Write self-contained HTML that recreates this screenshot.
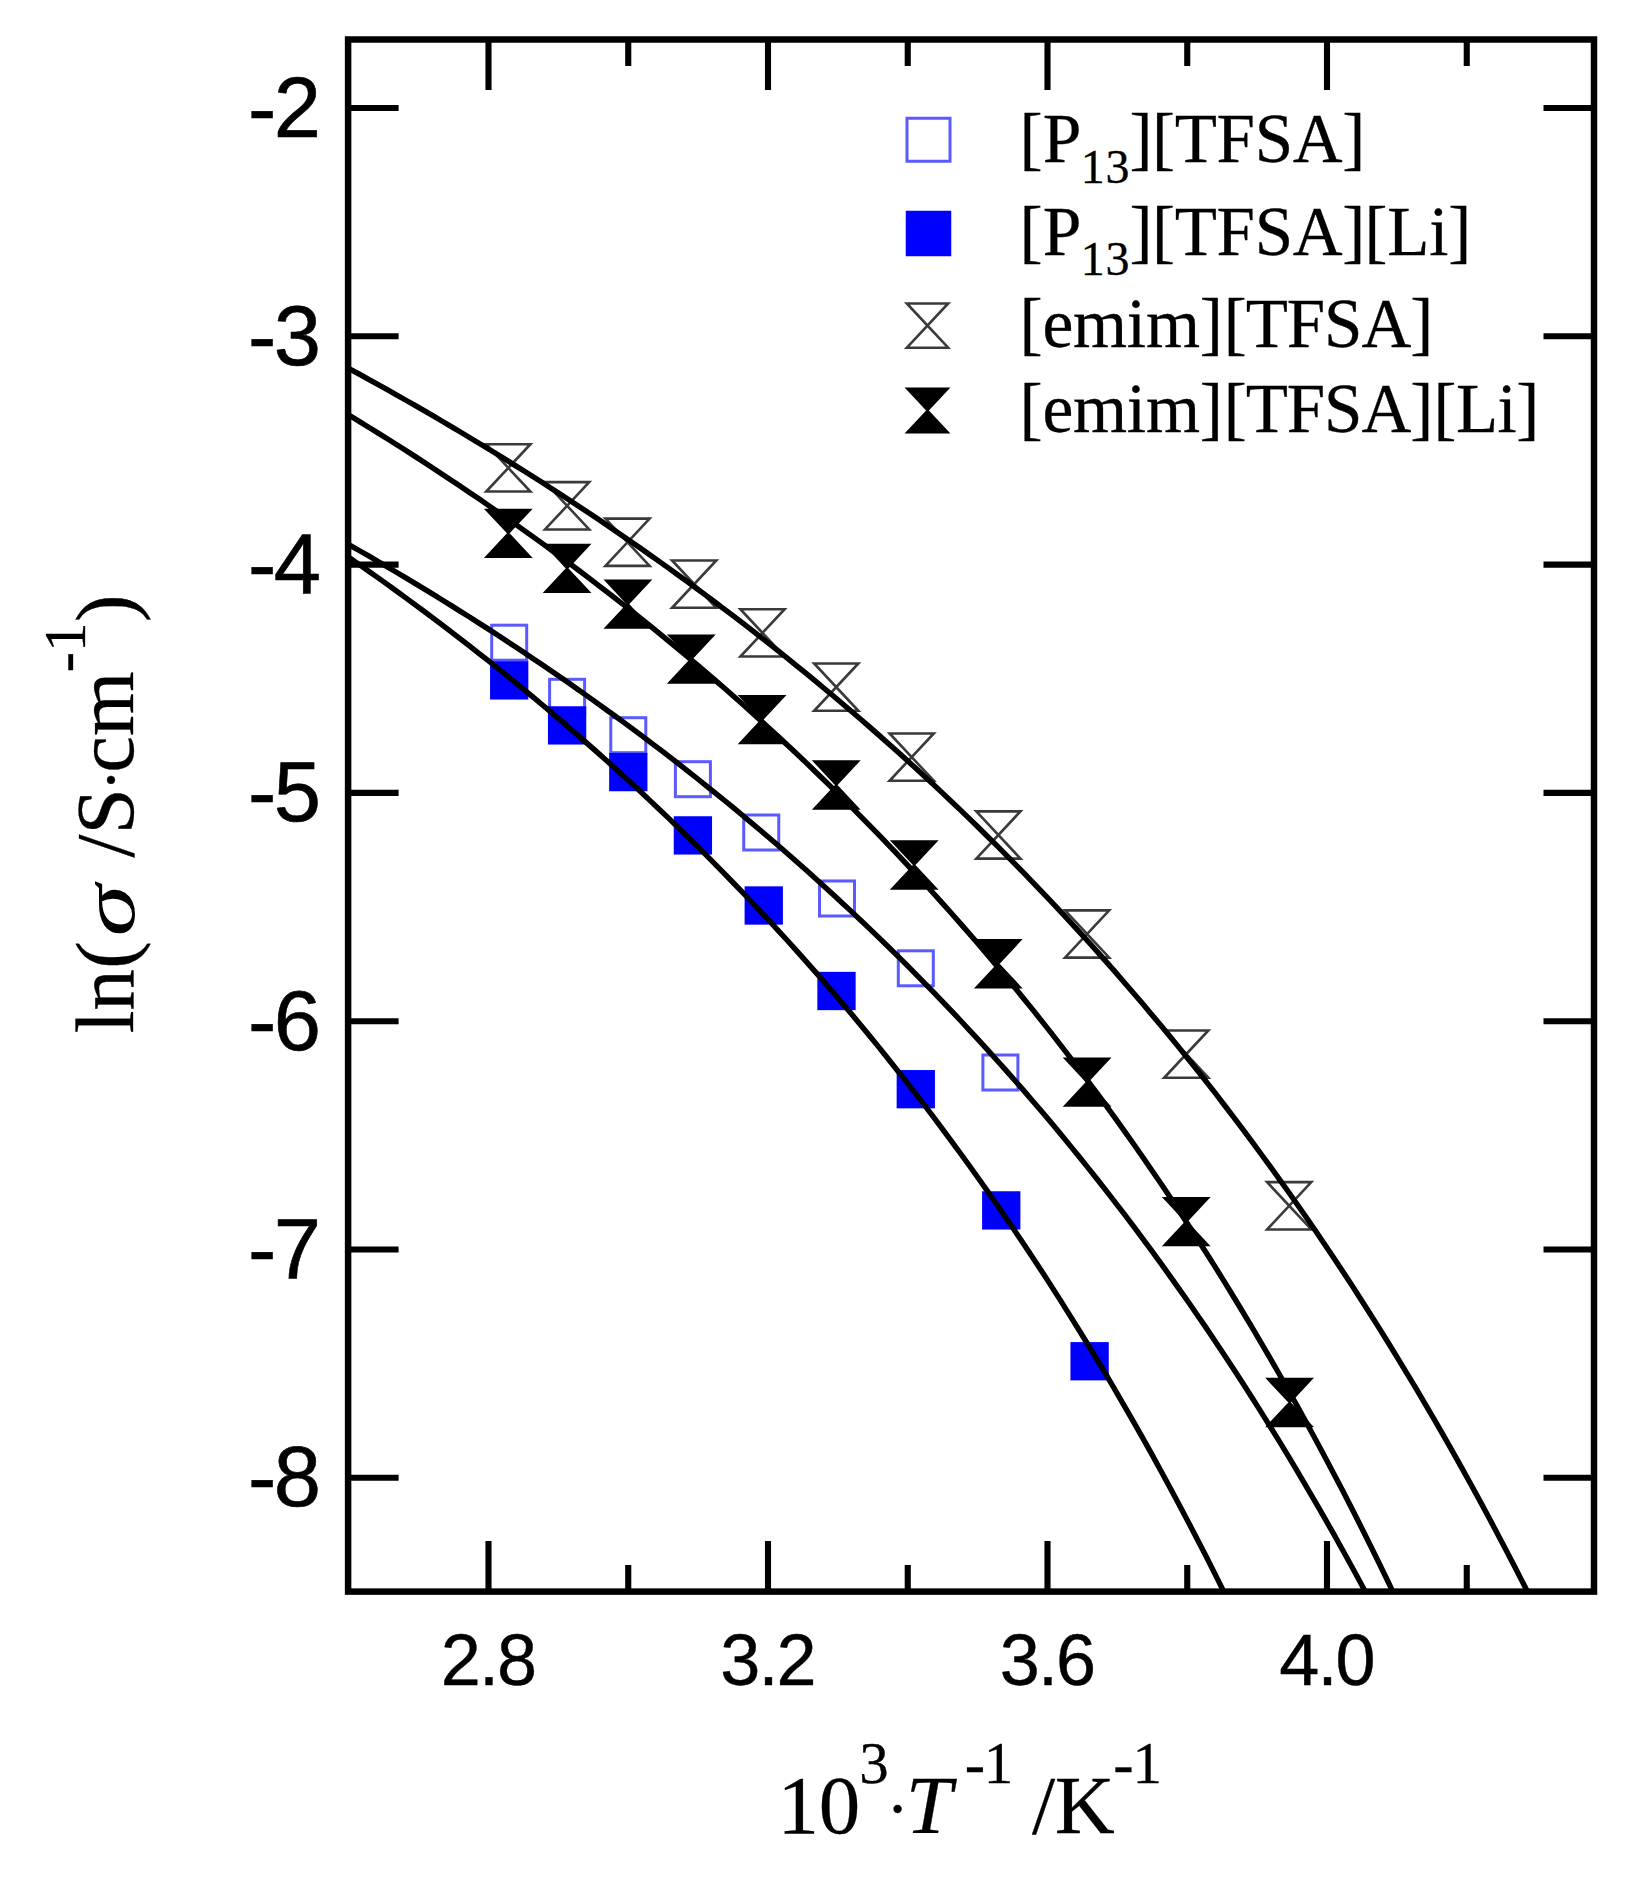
<!DOCTYPE html>
<html lang="en"><head><meta charset="utf-8"><title>ln(σ) vs 1000/T</title>
<style>
html,body{margin:0;padding:0;background:#fff;}
body{width:1640px;height:1889px;overflow:hidden;}
svg{display:block;}
text{fill:#000;stroke:#000;stroke-linejoin:round;}
.sans{font-family:"Liberation Sans",sans-serif;stroke-width:0.9px;}
.serif{font-family:"Liberation Serif",serif;stroke-width:0.3px;}
.it{font-style:italic;}
</style></head><body>
<svg width="1640" height="1889" viewBox="0 0 1640 1889">
<defs><clipPath id="plot"><rect x="348.10" y="39.50" width="1245.90" height="1552.10"/></clipPath></defs>
<rect width="1640" height="1889" fill="#fff"/>
<g id="markers">
<rect x="491.70" y="625.20" width="35.00" height="35.00" fill="#fff" stroke="#5a5aff" stroke-width="3"/>
<rect x="549.60" y="679.30" width="35.00" height="35.00" fill="#fff" stroke="#5a5aff" stroke-width="3"/>
<rect x="610.80" y="717.70" width="35.00" height="35.00" fill="#fff" stroke="#5a5aff" stroke-width="3"/>
<rect x="675.40" y="761.70" width="35.00" height="35.00" fill="#fff" stroke="#5a5aff" stroke-width="3"/>
<rect x="743.75" y="815.00" width="35.00" height="35.00" fill="#fff" stroke="#5a5aff" stroke-width="3"/>
<rect x="819.50" y="881.00" width="35.00" height="35.00" fill="#fff" stroke="#5a5aff" stroke-width="3"/>
<rect x="898.30" y="950.80" width="35.00" height="35.00" fill="#fff" stroke="#5a5aff" stroke-width="3"/>
<rect x="982.90" y="1055.00" width="35.00" height="35.00" fill="#fff" stroke="#5a5aff" stroke-width="3"/>
<rect x="491.30" y="662.50" width="35.80" height="35.80" fill="#0000ff" stroke="#0000ff" stroke-width="2.5"/>
<rect x="549.20" y="707.50" width="35.80" height="35.80" fill="#0000ff" stroke="#0000ff" stroke-width="2.5"/>
<rect x="610.40" y="754.20" width="35.80" height="35.80" fill="#0000ff" stroke="#0000ff" stroke-width="2.5"/>
<rect x="675.00" y="817.50" width="35.80" height="35.80" fill="#0000ff" stroke="#0000ff" stroke-width="2.5"/>
<rect x="745.85" y="887.60" width="35.80" height="35.80" fill="#0000ff" stroke="#0000ff" stroke-width="2.5"/>
<rect x="818.60" y="973.10" width="35.80" height="35.80" fill="#0000ff" stroke="#0000ff" stroke-width="2.5"/>
<rect x="897.90" y="1071.30" width="35.80" height="35.80" fill="#0000ff" stroke="#0000ff" stroke-width="2.5"/>
<rect x="983.35" y="1192.50" width="35.80" height="35.80" fill="#0000ff" stroke="#0000ff" stroke-width="2.5"/>
<rect x="1071.70" y="1343.35" width="35.80" height="35.80" fill="#0000ff" stroke="#0000ff" stroke-width="2.5"/>
<path d="M486.20 444.25 L530.40 444.25 L486.20 491.55 L530.40 491.55 Z" fill="none" stroke="#3a3a3a" stroke-width="2.6" stroke-linejoin="miter"/>
<path d="M545.00 482.15 L589.20 482.15 L545.00 529.45 L589.20 529.45 Z" fill="none" stroke="#3a3a3a" stroke-width="2.6" stroke-linejoin="miter"/>
<path d="M605.40 518.60 L649.60 518.60 L605.40 565.90 L649.60 565.90 Z" fill="none" stroke="#3a3a3a" stroke-width="2.6" stroke-linejoin="miter"/>
<path d="M672.10 560.45 L716.30 560.45 L672.10 607.75 L716.30 607.75 Z" fill="none" stroke="#3a3a3a" stroke-width="2.6" stroke-linejoin="miter"/>
<path d="M740.40 609.25 L784.60 609.25 L740.40 656.55 L784.60 656.55 Z" fill="none" stroke="#3a3a3a" stroke-width="2.6" stroke-linejoin="miter"/>
<path d="M814.15 663.45 L858.35 663.45 L814.15 710.75 L858.35 710.75 Z" fill="none" stroke="#3a3a3a" stroke-width="2.6" stroke-linejoin="miter"/>
<path d="M889.60 733.45 L933.80 733.45 L889.60 780.75 L933.80 780.75 Z" fill="none" stroke="#3a3a3a" stroke-width="2.6" stroke-linejoin="miter"/>
<path d="M976.30 811.35 L1020.50 811.35 L976.30 858.65 L1020.50 858.65 Z" fill="none" stroke="#3a3a3a" stroke-width="2.6" stroke-linejoin="miter"/>
<path d="M1065.00 910.35 L1109.20 910.35 L1065.00 957.65 L1109.20 957.65 Z" fill="none" stroke="#3a3a3a" stroke-width="2.6" stroke-linejoin="miter"/>
<path d="M1164.15 1030.45 L1208.35 1030.45 L1164.15 1077.75 L1208.35 1077.75 Z" fill="none" stroke="#3a3a3a" stroke-width="2.6" stroke-linejoin="miter"/>
<path d="M1267.10 1182.15 L1311.30 1182.15 L1267.10 1229.45 L1311.30 1229.45 Z" fill="none" stroke="#3a3a3a" stroke-width="2.6" stroke-linejoin="miter"/>
<path d="M486.20 509.65 L530.40 509.65 L486.20 556.95 L530.40 556.95 Z" fill="#000" stroke="#000" stroke-width="2" stroke-linejoin="miter"/>
<path d="M545.00 544.65 L589.20 544.65 L545.00 591.95 L589.20 591.95 Z" fill="#000" stroke="#000" stroke-width="2" stroke-linejoin="miter"/>
<path d="M605.80 580.55 L650.00 580.55 L605.80 627.85 L650.00 627.85 Z" fill="#000" stroke="#000" stroke-width="2" stroke-linejoin="miter"/>
<path d="M669.15 635.55 L713.35 635.55 L669.15 682.85 L713.35 682.85 Z" fill="#000" stroke="#000" stroke-width="2" stroke-linejoin="miter"/>
<path d="M740.00 695.95 L784.20 695.95 L740.00 743.25 L784.20 743.25 Z" fill="#000" stroke="#000" stroke-width="2" stroke-linejoin="miter"/>
<path d="M814.15 761.35 L858.35 761.35 L814.15 808.65 L858.35 808.65 Z" fill="#000" stroke="#000" stroke-width="2" stroke-linejoin="miter"/>
<path d="M892.10 841.35 L936.30 841.35 L892.10 888.65 L936.30 888.65 Z" fill="#000" stroke="#000" stroke-width="2" stroke-linejoin="miter"/>
<path d="M976.20 940.10 L1020.40 940.10 L976.20 987.40 L1020.40 987.40 Z" fill="#000" stroke="#000" stroke-width="2" stroke-linejoin="miter"/>
<path d="M1065.00 1058.45 L1109.20 1058.45 L1065.00 1105.75 L1109.20 1105.75 Z" fill="#000" stroke="#000" stroke-width="2" stroke-linejoin="miter"/>
<path d="M1164.15 1198.05 L1208.35 1198.05 L1164.15 1245.35 L1208.35 1245.35 Z" fill="#000" stroke="#000" stroke-width="2" stroke-linejoin="miter"/>
<path d="M1267.50 1378.85 L1311.70 1378.85 L1267.50 1426.15 L1311.70 1426.15 Z" fill="#000" stroke="#000" stroke-width="2" stroke-linejoin="miter"/>
</g>
<g id="curves" clip-path="url(#plot)" fill="none" stroke="#000" stroke-width="5.4" stroke-linejoin="round">
<polyline points="341.8,364.6 350.9,369.6 360.0,374.5 369.1,379.6 378.2,384.6 387.3,389.7 396.4,394.8 405.5,400.0 414.6,405.2 423.7,410.4 432.8,415.7 441.8,421.0 450.9,426.4 460.0,431.8 469.1,437.2 478.2,442.7 487.3,448.2 496.4,453.8 505.5,459.4 514.6,465.1 523.7,470.8 532.8,476.5 541.9,482.3 551.0,488.2 560.1,494.1 569.2,500.0 578.3,506.0 587.4,512.0 596.5,518.1 605.6,524.2 614.7,530.4 623.8,536.7 632.9,542.9 642.0,549.3 651.1,555.7 660.2,562.1 669.3,568.6 678.4,575.2 687.5,581.8 696.6,588.5 705.7,595.2 714.8,602.0 723.9,608.8 733.0,615.7 742.1,622.7 751.2,629.7 760.3,636.8 769.4,643.9 778.5,651.1 787.6,658.4 796.7,665.8 805.8,673.2 814.9,680.6 824.0,688.2 833.1,695.8 842.2,703.5 851.3,711.2 860.4,719.0 869.5,726.9 878.6,734.9 887.7,743.0 896.8,751.1 905.9,759.3 915.0,767.6 924.1,775.9 933.2,784.3 942.3,792.9 951.4,801.5 960.5,810.1 969.6,818.9 978.7,827.8 987.8,836.7 996.9,845.7 1006.0,854.9 1015.1,864.1 1024.2,873.4 1033.3,882.8 1042.4,892.3 1051.5,901.9 1060.6,911.6 1069.7,921.4 1078.8,931.3 1087.9,941.3 1097.0,951.4 1106.1,961.6 1115.2,971.9 1124.3,982.4 1133.4,992.9 1142.5,1003.6 1151.6,1014.4 1160.7,1025.2 1169.8,1036.3 1178.9,1047.4 1188.0,1058.7 1197.1,1070.0 1206.2,1081.6 1215.3,1093.2 1224.3,1105.0 1233.4,1116.9 1242.5,1128.9 1251.6,1141.1 1260.7,1153.5 1269.8,1165.9 1278.9,1178.6 1288.0,1191.3 1297.1,1204.2 1306.2,1217.3 1315.3,1230.6 1324.4,1244.0 1333.5,1257.5 1342.6,1271.2 1351.7,1285.1 1360.8,1299.2 1369.9,1313.5 1379.0,1327.9 1388.1,1342.5 1397.2,1357.3 1406.3,1372.3 1415.4,1387.4 1424.5,1402.8 1433.6,1418.4 1442.7,1434.2 1451.8,1450.2 1460.9,1466.4 1470.0,1482.8 1479.1,1499.4 1488.2,1516.3 1497.3,1533.4 1506.4,1550.7 1515.5,1568.3 1524.6,1586.1 1533.7,1604.2 1542.8,1622.6 1551.9,1641.2 1561.0,1660.0 1570.1,1679.2 1579.2,1698.6"/>
<polyline points="341.8,410.8 350.9,416.3 360.0,421.9 369.1,427.5 378.2,433.1 387.3,438.8 396.4,444.5 405.5,450.3 414.6,456.1 423.7,462.0 432.8,467.9 441.8,473.9 450.9,480.0 460.0,486.0 469.1,492.2 478.2,498.3 487.3,504.6 496.4,510.9 505.5,517.2 514.6,523.6 523.7,530.1 532.8,536.6 541.9,543.1 551.0,549.8 560.1,556.5 569.2,563.2 578.3,570.0 587.4,576.9 596.5,583.8 605.6,590.8 614.7,597.8 623.8,605.0 632.9,612.1 642.0,619.4 651.1,626.7 660.2,634.1 669.3,641.6 678.4,649.1 687.5,656.7 696.6,664.4 705.7,672.1 714.8,679.9 723.9,687.8 733.0,695.8 742.1,703.8 751.2,712.0 760.3,720.2 769.4,728.5 778.5,736.8 787.6,745.3 796.7,753.8 805.8,762.4 814.9,771.2 824.0,780.0 833.1,788.9 842.2,797.8 851.3,806.9 860.4,816.1 869.5,825.3 878.6,834.7 887.7,844.2 896.8,853.7 905.9,863.4 915.0,873.2 924.1,883.0 933.2,893.0 942.3,903.1 951.4,913.3 960.5,923.6 969.6,934.1 978.7,944.6 987.8,955.3 996.9,966.1 1006.0,977.0 1015.1,988.0 1024.2,999.2 1033.3,1010.4 1042.4,1021.9 1051.5,1033.4 1060.6,1045.1 1069.7,1056.9 1078.8,1068.9 1087.9,1081.0 1097.0,1093.2 1106.1,1105.6 1115.2,1118.2 1124.3,1130.9 1133.4,1143.8 1142.5,1156.8 1151.6,1170.0 1160.7,1183.3 1169.8,1196.8 1178.9,1210.5 1188.0,1224.4 1197.1,1238.5 1206.2,1252.7 1215.3,1267.1 1224.3,1281.7 1233.4,1296.5 1242.5,1311.5 1251.6,1326.7 1260.7,1342.1 1269.8,1357.7 1278.9,1373.5 1288.0,1389.5 1297.1,1405.8 1306.2,1422.3 1315.3,1439.0 1324.4,1456.0 1333.5,1473.2 1342.6,1490.6 1351.7,1508.3 1360.8,1526.3 1369.9,1544.5 1379.0,1563.0 1388.1,1581.8 1397.2,1600.8 1406.3,1620.1 1415.4,1639.8 1424.5,1659.7 1433.6,1679.9"/>
<polyline points="341.8,540.6 350.9,545.8 360.0,551.0 369.1,556.2 378.2,561.5 387.3,566.8 396.4,572.2 405.5,577.6 414.6,583.1 423.7,588.6 432.8,594.1 441.8,599.7 450.9,605.4 460.0,611.1 469.1,616.8 478.2,622.6 487.3,628.4 496.4,634.3 505.5,640.3 514.6,646.3 523.7,652.3 532.8,658.4 541.9,664.5 551.0,670.7 560.1,677.0 569.2,683.3 578.3,689.7 587.4,696.1 596.5,702.6 605.6,709.2 614.7,715.8 623.8,722.4 632.9,729.1 642.0,735.9 651.1,742.8 660.2,749.7 669.3,756.7 678.4,763.7 687.5,770.8 696.6,778.0 705.7,785.3 714.8,792.6 723.9,800.0 733.0,807.4 742.1,815.0 751.2,822.6 760.3,830.2 769.4,838.0 778.5,845.8 787.6,853.7 796.7,861.7 805.8,869.8 814.9,877.9 824.0,886.2 833.1,894.5 842.2,902.9 851.3,911.4 860.4,920.0 869.5,928.6 878.6,937.4 887.7,946.2 896.8,955.2 905.9,964.2 915.0,973.3 924.1,982.6 933.2,991.9 942.3,1001.3 951.4,1010.9 960.5,1020.5 969.6,1030.3 978.7,1040.1 987.8,1050.1 996.9,1060.2 1006.0,1070.4 1015.1,1080.7 1024.2,1091.1 1033.3,1101.7 1042.4,1112.3 1051.5,1123.1 1060.6,1134.0 1069.7,1145.1 1078.8,1156.3 1087.9,1167.6 1097.0,1179.0 1106.1,1190.6 1115.2,1202.3 1124.3,1214.2 1133.4,1226.2 1142.5,1238.4 1151.6,1250.7 1160.7,1263.2 1169.8,1275.8 1178.9,1288.6 1188.0,1301.5 1197.1,1314.7 1206.2,1327.9 1215.3,1341.4 1224.3,1355.0 1233.4,1368.8 1242.5,1382.8 1251.6,1397.0 1260.7,1411.4 1269.8,1426.0 1278.9,1440.7 1288.0,1455.7 1297.1,1470.9 1306.2,1486.3 1315.3,1501.9 1324.4,1517.7 1333.5,1533.7 1342.6,1550.0 1351.7,1566.5 1360.8,1583.3 1369.9,1600.2 1379.0,1617.5 1388.1,1635.0 1397.2,1652.8 1406.3,1670.8 1415.4,1689.1"/>
<polyline points="341.8,552.4 350.9,558.7 360.0,565.1 369.1,571.5 378.2,577.9 387.3,584.4 396.4,591.0 405.5,597.6 414.6,604.3 423.7,611.0 432.8,617.8 441.8,624.7 450.9,631.6 460.0,638.6 469.1,645.6 478.2,652.8 487.3,659.9 496.4,667.2 505.5,674.5 514.6,681.9 523.7,689.4 532.8,696.9 541.9,704.5 551.0,712.1 560.1,719.9 569.2,727.7 578.3,735.6 587.4,743.6 596.5,751.6 605.6,759.7 614.7,767.9 623.8,776.2 632.9,784.6 642.0,793.0 651.1,801.6 660.2,810.2 669.3,818.9 678.4,827.7 687.5,836.6 696.6,845.6 705.7,854.7 714.8,863.8 723.9,873.1 733.0,882.5 742.1,891.9 751.2,901.5 760.3,911.2 769.4,920.9 778.5,930.8 787.6,940.8 796.7,950.9 805.8,961.1 814.9,971.4 824.0,981.8 833.1,992.4 842.2,1003.0 851.3,1013.8 860.4,1024.7 869.5,1035.8 878.6,1046.9 887.7,1058.2 896.8,1069.7 905.9,1081.2 915.0,1092.9 924.1,1104.7 933.2,1116.7 942.3,1128.8 951.4,1141.1 960.5,1153.5 969.6,1166.0 978.7,1178.8 987.8,1191.6 996.9,1204.7 1006.0,1217.9 1015.1,1231.2 1024.2,1244.8 1033.3,1258.5 1042.4,1272.3 1051.5,1286.4 1060.6,1300.6 1069.7,1315.1 1078.8,1329.7 1087.9,1344.5 1097.0,1359.5 1106.1,1374.7 1115.2,1390.1 1124.3,1405.8 1133.4,1421.6 1142.5,1437.7 1151.6,1453.9 1160.7,1470.5 1169.8,1487.2 1178.9,1504.2 1188.0,1521.4 1197.1,1538.9 1206.2,1556.6 1215.3,1574.6 1224.3,1592.8 1233.4,1611.4 1242.5,1630.1 1251.6,1649.2 1260.7,1668.6 1269.8,1688.3"/>
</g>
<g id="axes" stroke="#000" fill="none">
<rect x="348.10" y="39.50" width="1245.90" height="1552.10" stroke-width="6.5"/>
<path d="M488.50 39.50 v50.50 M488.50 1591.60 v-50.50 M628.25 39.50 v26.50 M628.25 1591.60 v-26.50 M768.00 39.50 v50.50 M768.00 1591.60 v-50.50 M907.75 39.50 v26.50 M907.75 1591.60 v-26.50 M1047.50 39.50 v50.50 M1047.50 1591.60 v-50.50 M1187.25 39.50 v26.50 M1187.25 1591.60 v-26.50 M1327.00 39.50 v50.50 M1327.00 1591.60 v-50.50 M1466.75 39.50 v26.50 M1466.75 1591.60 v-26.50 M348.10 1477.80 h50.50 M1594.00 1477.80 h-50.50 M348.10 1249.50 h50.50 M1594.00 1249.50 h-50.50 M348.10 1021.20 h50.50 M1594.00 1021.20 h-50.50 M348.10 792.90 h50.50 M1594.00 792.90 h-50.50 M348.10 564.60 h50.50 M1594.00 564.60 h-50.50 M348.10 336.30 h50.50 M1594.00 336.30 h-50.50 M348.10 108.00 h50.50 M1594.00 108.00 h-50.50" stroke-width="6.1"/>
</g>
<g class="sans" font-size="85" text-anchor="end" style="stroke-width:0.6px">
<text x="321" y="136.5"><tspan>-</tspan><tspan dx="-2.5">2</tspan></text>
<text x="321" y="364.8"><tspan>-</tspan><tspan dx="-2.5">3</tspan></text>
<text x="321" y="593.1"><tspan>-</tspan><tspan dx="-2.5">4</tspan></text>
<text x="321" y="821.4"><tspan>-</tspan><tspan dx="-2.5">5</tspan></text>
<text x="321" y="1049.7"><tspan>-</tspan><tspan dx="-2.5">6</tspan></text>
<text x="321" y="1278.0"><tspan>-</tspan><tspan dx="-2.5">7</tspan></text>
<text x="321" y="1506.3"><tspan>-</tspan><tspan dx="-2.5">8</tspan></text>
</g>
<g class="sans" font-size="72" text-anchor="middle" letter-spacing="-1.9" style="stroke-width:0.4px">
<text x="488.0" y="1684.8">2.8</text>
<text x="767.5" y="1684.8">3.2</text>
<text x="1047.0" y="1684.8">3.6</text>
<text x="1326.5" y="1684.8">4.0</text>
</g>
<text id="xtitle" class="serif"><tspan font-size="83" x="777.52" y="1833.00">1</tspan><tspan font-size="83" x="818.65" y="1833.00">0</tspan><tspan font-size="59" x="859.15" y="1782.60">3</tspan><tspan font-size="68" x="886.25" y="1831.25">·</tspan><tspan class="it" font-size="83" x="905.75" y="1833.00">T</tspan><tspan font-size="61" x="964.65" y="1783.90">-</tspan><tspan font-size="59" x="983.77" y="1782.60">1</tspan><tspan> </tspan><tspan font-size="83" x="1031.90" y="1833.00">/</tspan><tspan font-size="83" x="1054.67" y="1833.00">K</tspan><tspan font-size="61" x="1113.35" y="1783.90">-</tspan><tspan font-size="59" x="1132.47" y="1782.60">1</tspan></text>
<text id="ytitle" class="serif" transform="translate(133.1 1028.1) rotate(-90)"><tspan font-size="83" x="-5.38" y="0.00">l</tspan><tspan font-size="83" x="17.35" y="0.00">n</tspan><tspan font-size="83" x="59.45" y="0.00">(</tspan><tspan class="it" font-size="76.36" x="91.49" y="0.75" textLength="51.91" lengthAdjust="spacingAndGlyphs" style="stroke:none">σ</tspan><tspan> </tspan><tspan font-size="83" x="170.60" y="0.00">/</tspan><tspan font-size="83" x="193.60" y="0.00">S</tspan><tspan font-size="68" x="236.85" y="-0.60">·</tspan><tspan font-size="83" x="255.45" y="0.00">c</tspan><tspan font-size="83" x="292.20" y="0.00">m</tspan><tspan font-size="61" x="355.95" y="-48.60">-</tspan><tspan font-size="59" x="376.23" y="-48.10">1</tspan><tspan font-size="83" x="405.98" y="0.00">)</tspan></text>
<g id="legend">
<rect x="907.00" y="118.25" width="43.00" height="43.00" fill="#fff" stroke="#5a5aff" stroke-width="3"/>
<rect x="907.00" y="212.00" width="43.00" height="43.00" fill="#0000ff" stroke="#0000ff" stroke-width="2.5"/>
<path d="M906.85 303.50 L948.15 303.50 L906.85 347.70 L948.15 347.70 Z" fill="none" stroke="#3a3a3a" stroke-width="2.6" stroke-linejoin="miter"/>
<path d="M906.85 388.40 L948.15 388.40 L906.85 432.60 L948.15 432.60 Z" fill="#000" stroke="#000" stroke-width="2" stroke-linejoin="miter"/>
<text class="serif"><tspan font-size="69.5" x="1019.50" y="162.00">[P</tspan><tspan font-size="48" x="1080.75" y="182.50">1</tspan><tspan font-size="48" x="1105.55" y="182.50">3</tspan><tspan font-size="69" x="1129.40" y="162.00" letter-spacing="-0.292">][TFSA]</tspan></text>
<text class="serif"><tspan font-size="69.5" x="1019.50" y="254.50">[P</tspan><tspan font-size="48" x="1080.75" y="275.00">1</tspan><tspan font-size="48" x="1105.55" y="275.00">3</tspan><tspan font-size="69" x="1129.40" y="254.50" letter-spacing="-0.292">][TFSA]</tspan><tspan font-size="69" x="1364.60" y="254.50" letter-spacing="-0.217">[Li]</tspan></text>
<text class="serif"><tspan font-size="69.5" x="1019.50" y="347.00" letter-spacing="-0.240">[emim]</tspan><tspan font-size="69" x="1223.75" y="347.00" letter-spacing="-1.060">[TFSA]</tspan></text>
<text class="serif"><tspan font-size="69.5" x="1019.50" y="431.50" letter-spacing="-0.240">[emim]</tspan><tspan font-size="69" x="1223.75" y="431.50" letter-spacing="-1.060">[TFSA]</tspan><tspan font-size="69" x="1433.40" y="431.50" letter-spacing="-0.450">[Li]</tspan></text>
</g>
</svg></body></html>
